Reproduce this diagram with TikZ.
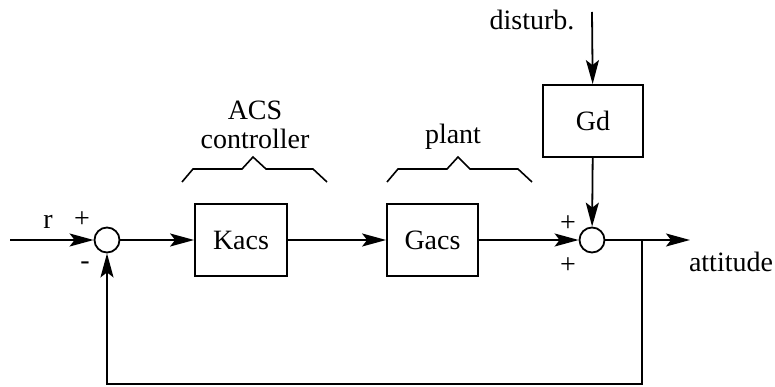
\documentclass[tikz,border=0pt]{standalone}
\usepackage{fontspec}
\setmainfont{Liberation Serif}
\usetikzlibrary{arrows.meta}
\begin{document}
\begin{tikzpicture}[x=1pt,y=-1pt,line width=1.8pt,
  font=\fontsize{28}{30}\selectfont,
  arr/.style={-{Stealth[length=24pt,width=13pt,inset=5pt]}},
  blk/.style={draw,rectangle,minimum height=72pt,inner sep=0pt},
  sumc/.style={draw,circle,minimum size=25pt,inner sep=0pt},
  lbl/.style={inner sep=0pt},
  brace/.style={line width=1.6pt}]
\useasboundingbox (0,0) rectangle (775,387);
% blocks
\node[sumc] (s1) at (107,240) {};
\node[blk,minimum width=92pt] (k) at (241,240) {Kacs};
\node[blk,minimum width=91pt] (g) at (432.5,240) {Gacs};
\node[sumc] (s2) at (592,240) {};
\node[blk,minimum width=100pt] (gd) at (593,121) {Gd};
% free ends
\coordinate (in) at (10,240);
\coordinate (out) at (690,240);
\coordinate (br) at (642,240);
\coordinate (bl) at (642,384);
\coordinate (dist) at (592,12);
% connectors
\draw[arr] (in) -- (s1);
\draw[arr] (s1) -- (k);
\draw[arr] (k) -- (g);
\draw[arr] (g) -- (s2);
\draw[arr] (s2) -- (out);
\draw[arr] (dist) -- (gd);
\draw[arr] (gd) -- (s2);
\draw[arr] (br) -- (bl) -| (s1.south);
% labels
\node[lbl] (r) at (48,222) {r};
\node[lbl] (p1) at (82,220) {+};
\node[lbl] (m1) at (85,266) {-};
\node[lbl] (p2) at (568,224) {+};
\node[lbl] (p3) at (568,266) {+};
\node[lbl] (att) at (731,262) {attitude};
\node[lbl] (dst) at (532,20) {disturb.};
\node[lbl] (acs) at (255,110) {ACS};
\node[lbl] (ctl) at (255,138.5) {controller};
\node[lbl] (pl) at (453,137) {plant};
% braces
\draw[brace] (182,182) -- (193,169) -- (242,169) -- (253,157) -- (266,169) -- (313,169) -- (327,182);
\draw[brace] (387,182) -- (398,169) -- (447,169) -- (458,157) -- (470,169) -- (518,169) -- (532,182);
\end{tikzpicture}
\end{document}
